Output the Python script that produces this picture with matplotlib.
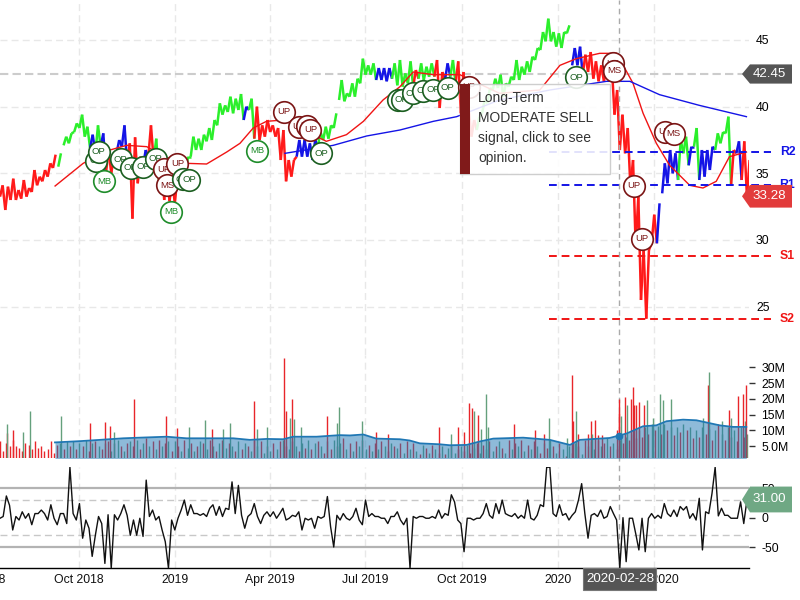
import pandas as pd
import matplotlib
matplotlib.use("Agg")
import matplotlib.pyplot as plt
import matplotlib.dates as mdates
from matplotlib.patches import Polygon, Rectangle
from matplotlib.transforms import blended_transform_factory

plt.rcParams['font.family'] = ['Liberation Sans', 'DejaVu Sans']

# bars of the price panel, one every 5.05 calendar days from start_date
start_date = pd.Timestamp("2018-07-18")
bar_step = 5.05
vol_step = 3.03

price_hi = [34.1, 34, 34.6, 33.75, 34.5, 33.9, 35.25, 34.75, 35.25, 35.75, 36.4, 36.5, 37.75, 38, 38.75, 39.4,
            38.5, 37.9, 38.6, 38, 36.75, 36.25, 37.5, 38.6, 37.25, 37.7, 36.25, 36.75, 38.6, 37.6, 35.75, 35.5,
            34.5, 34.75, 35, 36.25, 37.75, 37.6, 37.9, 38.4, 39, 40.25, 40.1, 40.75, 40.6, 40.95, 40, 40.6,
            40, 38.6, 39, 38.6, 38.4, 38.25, 36, 36, 37.5, 37.5, 37.25, 37.5, 38.1, 38.5, 38.6, 39.5,
            42, 41, 41.75, 42.1, 43.6, 43.1, 43.25, 42.9, 42.9, 42.9, 43.25, 43.5, 42.5, 43.4, 42.75, 43.25,
            43, 43.25, 43.5, 42.6, 43.25, 43.5, 43.4, 42.6, 39.75, 39, 39.25, 40.5, 41.4, 42.1, 42.4, 41.75,
            42.25, 43.5, 43, 43.4, 43.75, 44.4, 45.6, 46.6, 45.6, 45.5, 45.6, 46.1, 44.4, 44.5, 43.9, 44.1,
            43.4, 43.1, 42.9, 43, 41.25, 39.4, 38.4, 36, 33.25, 29.25, 29.25, 31.9, 32.75, 35.75, 36.75, 36.5,
            37.5, 37.75, 37, 38.4, 36.75, 36.75, 37, 38, 38.1, 39.25, 36.75, 37.4, 37.4, 36]
price_lo = [33.25, 32.25, 33, 33, 33.1, 33.25, 33.6, 34.1, 34.4, 34.75, 35.4, 35.5, 37.1, 37.25, 38.1, 38.4,
            37.75, 36.9, 36.5, 37, 35, 35, 36.5, 37, 35.75, 31.6, 34.25, 35.5, 36.25, 36, 34.5, 33,
            32.9, 32.75, 33.75, 35, 36.25, 36.75, 36.75, 37.4, 37.5, 38.6, 39.4, 39.6, 39.5, 39.75, 39, 39.75,
            37.6, 37.5, 37.75, 38.1, 37.75, 36, 34.4, 34.75, 36.25, 36.25, 36.25, 36, 37, 37.5, 37.6, 38.4,
            40.5, 40.4, 40.75, 40.75, 41.75, 42.4, 42.4, 42, 42, 41.9, 42.1, 41.6, 41.5, 41.75, 41.5, 42.1,
            42, 42.25, 42.25, 39.9, 42, 42.25, 41.75, 39.5, 38, 37.75, 38.25, 39.5, 40.25, 41.25, 41.4, 40.75,
            41.5, 42, 42, 42.4, 42.6, 43.5, 44.25, 44.9, 44.9, 44.5, 44.4, 45.5, 43.1, 43.1, 42.4, 42.6,
            42.1, 41.9, 41.9, 41.9, 39.4, 36.75, 36.5, 34, 29.5, 25.5, 24.1, 29.75, 29.75, 33.5, 34.25, 35,
            34.5, 36.5, 35.6, 37, 34.5, 34.75, 35.25, 36.75, 37.25, 38, 34.1, 36.5, 34.5, 33.25]
price_trend = ("rrrrrrrrrrrggggggbgbrrbbrrrbrgrrrrrggggggggggg"[:46] + "bg" + "rrrrrrrr" + "bbbb"
               + "ggggggggggg" + "bbb" + "gggg" + "r" + "ggg" + "rr" + "b" + "g" + "rrrr"
               + "g" * 18 + "bb" + "r" * 14 + "bbbb" + "gg" + "b" + "g" + "bbb" + "ggg" + "r" + "b" + "rr")
price_gaps = [10, 11, 63, 107, 124]

sma_x = [10.4, 15.7, 20.75, 23.9, 27.7, 31.4, 35.2, 39, 42.8, 45.3, 47.8, 50.3, 53.5, 56.6, 61.6, 65.4, 68.6,
         72.3, 75.5, 78, 81.8, 86.8, 94.3, 101.9, 105.7, 108.8, 113.2, 116.4, 119.5, 121.4, 123.9, 126.4,
         130.2, 132.7, 135.2, 137.7, 140.9]
sma_y = [34.05, 35.75, 36.75, 37.1, 37, 36.2, 35.75, 35.7, 36.6, 37.25, 38.4, 38.9, 39, 38.4, 37.4, 37.9, 38.9,
         40.5, 41.5, 42.6, 42.4, 42.4, 41, 41.25, 43.1, 43.6, 44, 44, 41.75, 39.5, 37.25, 35.6,
         34.1, 33.9, 34.4, 36.25, 36.6]
long_ma_x = [53.8, 62.9, 69.2, 75.5, 81.8, 86.2, 94.3, 103.8, 114.5, 118.9, 124.5, 132, 140.9]
long_ma_y = [36.5, 37.1, 37.8, 38.25, 38.9, 39.25, 40.5, 41.25, 41.9, 41.9, 40.9, 40.1, 39.25]

levels = {"R2": 36.6, "R1": 34.1, "S1": 28.8, "S2": 24.1}
last_close = 33.28
ref_price = 42.45
osc_last = 31.0

signal_names = ["OP", "OP", "MB", "OP", "OP", "OP", "OP", "UP", "UP", "MS", "OP", "OP", "MB", "MB", "UP", "UP",
                "UP", "UP", "OP", "OP", "OP", "OP", "OP", "OP", "OP", "UP", "OP", "UP", "MS", "UP", "UP", "UP", "MS"]
signal_x = [18.2, 18.6, 19.6, 22.8, 24.7, 27, 29.4, 31, 33.5, 31.6, 34.5, 35.7, 32.3, 48.5, 53.6, 56.4,
            57.9, 58.6, 60.6, 75.2, 75.8, 77.9, 79.9, 81.8, 84.5, 88.5, 108.8, 115.7, 115.9, 119.7, 121.2, 125.5, 127.2]
signal_y = [35.95, 36.6, 34.4, 36.05, 35.4, 35.5, 36.1, 35.3, 35.7, 34.1, 34.55, 34.5, 32.1, 36.7, 39.6, 38.5,
            38.55, 38.25, 36.5, 40.5, 40.5, 41, 41.2, 41.25, 41.4, 41.5, 42.2, 43.25, 42.7, 34.05, 30.1, 38.1, 37.95]

# daily volume in millions, one bar every 3.03 days, with the spikes listed apart
vol_base = [6.5, 3.5, 6, 5, 7, 5, 4.5, 3.5, 6, 5.5, 4, 6.5, 4.5, 5, 3.5, 4, 6.5, 3, 5.5, 6, 4, 6.5, 5, 6.5, 4,
            6, 5, 7, 3.5, 6, 6.5, 5, 4, 6, 6.5, 3.5, 6, 7, 5, 3.5, 6, 6.5, 5, 7, 4, 6, 7.5, 5, 6.5, 4,
            7, 5, 6, 6.5, 3.5, 6.5, 5, 3.5, 7, 4.5, 6, 3.5, 5, 6.5, 6, 4, 7, 5, 3.5, 6, 7, 4.5, 6, 5, 3.5,
            6.5, 4, 6, 5, 3.5, 7, 5, 6.5, 3, 5, 3.5, 6, 4, 6.5, 7, 5, 4, 6.5, 5, 3.5, 6, 4.5, 7, 4, 6,
            6.5, 5, 3, 6.5, 4, 7, 5, 6, 7.5, 4, 6, 3.5, 6.5, 5, 7, 4, 5.5, 3.5, 6, 4, 6.5, 5, 3.5, 6, 5,
            4.5, 6, 3, 6.5, 4, 6, 3.5, 2.5, 5.5, 4.5, 3, 5.5, 4, 3, 5, 2.5, 4.5, 5.5, 3, 4, 5, 3.5, 5.5, 3,
            4.5, 6, 3, 5.5, 4, 6.5, 3.5, 5, 6.5, 4.5, 3, 7, 4, 6, 5, 7, 3.5, 5.5, 4, 6.5, 5, 3, 6, 4.5, 7,
            5, 3, 6, 4, 2, 5, 3, 6, 5, 2.5, 7, 5, 6.5, 4, 7, 5, 6, 7.5, 5, 6, 4, 7, 6, 8, 7, 9, 7.5, 10, 8,
            11, 9, 12, 10, 11.5, 9, 12, 10, 11, 8.5, 11, 9.5, 12, 10, 11, 7.5, 10, 8, 11, 9, 10.5, 7, 10, 12,
            9, 7, 11, 8, 10, 6.5, 11, 8, 9, 10.5]
spike_x = [2.1, 2.3, 4, 7.3, 9.4, 19.3, 28.3, 33.1, 34.6, 35.8, 42.2, 52.2, 55.8, 59.5, 64.6, 66.7, 70.2, 72.5,
           80, 80.7, 84.1, 89.4, 90, 91.3, 91.9, 92.6, 94.8, 102.9, 106.1, 106.7, 114, 118.4, 122.1,
           138, 142, 144, 146, 147.6, 148.6, 149, 150.4, 151.2, 152.8, 153.5, 161.8, 168.3, 171, 172.8, 178.4,
           180, 180.3, 181.1, 181.9, 185, 185.8, 186.4, 187.2, 188.2, 189.5, 194, 194.7, 194.9, 195.5, 196.7,
           197.4, 198.4, 199.2, 199.5, 200.2, 200.9, 202.6, 203.6, 205.5, 207.6, 208.6, 211, 221.2, 222.8,
           223.1, 227, 229.4, 229.9, 232.2, 233.8, 234.3, 234.8]
spike_v = [9.1, 11.9, 10, 9.6, 16, 14.5, 12.2, 12.7, 11.3, 9.4, 19.8, 14.5, 10.7, 11, 13.3, 10.5, 10.3, 12.5,
           19.3, 10.5, 11, 32.8, 16, 14, 19.8, 13.5, 11, 14.5, 12.5, 17.3, 13, 9.4, 9,
           11, 9, 11, 9.5, 18.6, 17, 16, 15, 10.5, 21.4, 11, 12, 10, 9, 14, 7.5,
           27.5, 13, 16, 9, 9, 13, 9, 13.3, 8.5, 8.5, 10, 15.4, 20, 14.5, 20.5,
           18, 20, 23.6, 18, 18, 19, 18, 19.6, 14, 21.4, 19.5, 20, 14, 24.4,
           28.4, 13, 16.4, 14, 21, 21.4, 13, 24.5]
spike_col = "rgrgg" "grrrg" "rrrgg" "rgg" "rgg" "rrgrg" "g" "rgg" "grr" "rggrrrrrrrrrg" "ggg" "grrg"[:0] + ""

vol_ma_x = [17.3, 25.2, 31.4, 38.8, 44, 52.4, 58.7, 73.4, 78.6, 83.9, 89.1, 92.2, 99.6, 106.9, 110.1, 114.3, 118.4, 125.8,
            128.9, 132.1, 138.4, 141.5, 146.8, 151, 155.2, 164.6, 173, 179.3, 182.4, 191.8, 197.1, 202.3, 206.5,
            209.7, 214.9, 219.1, 226.4, 230.6, 234.8]
vol_ma_y = [6.2, 6.6, 7, 7.5, 7.7, 8, 7.5, 7.5, 7, 7.3, 7.2, 8, 8, 8.5, 8.4, 8.7, 7.4, 7.2,
            6.8, 5.9, 5.6, 5.3, 5.4, 6.5, 7.4, 7.7, 7, 5.4, 7, 7.6, 9, 11.3, 11.6,
            12.9, 13.4, 13.2, 11.6, 11.1, 11.1]

# oscillator, one point every 3.03 days
osc = [-1, 2, 37, 21, -21, 2, -4, 10, -1, 7, -12, 7, 7, 13, 7, -4, 22, -1, -12, 7, 7, -10, 86, 7, -4, 24, -35, -4, -18, -66,
       -30, 2, -10, -78, 5, -86, 5, -4, 7, 22, 4, -30, -4, -30, -1, -32, 64, 2, 13, -4, 2, -21, -41, -86, -4, -21, -1, 13, 30, 4,
       22, 7, 7, 4, 7, 2, 16, 22, 4, 19, 2, 16, 14, 61, 7, 55, 4, -18, 2, 7, 24, 2, -10, 4, 10, 2, 10, -1, 7, 16,
       -4, -1, 4, 2, 10, -21, -1, -4, -1, -18, 2, -1, 2, 36, -15, -50, 4, -4, 7, -1, -4, 2, 16, -4, -12, 30, 2, 7, 2, 2,
       -1, -1, -10, 2, 2, 10, -4, -12, -1, -86, 2, -1, 2, 2, -1, -1, 2, -1, 13, -1, 7, 4, 39, 27, -4, -10, -58, -1, -1, -4,
       -1, -1, 7, 24, 4, -1, 24, 7, 30, 7, 4, 2, 7, -1, 4, -1, 30, -1, -4, 4, 22, 19, 86, 86, 7, 2, 22, 4, 7, -4,
       4, 10, 30, 58, 7, -35, 4, 7, 2, 13, -1, 2, 19, 7, -4, -86, 0, -75, -1, -1, -27, -55, -1, -58, -1, 7, -1, 4, -1, 24,
       7, 2, 13, 2, 19, 13, 19, -1, 7, -4, 33, -55, 10, 7, 41, 86, 3, 16, 4, 4, -1, -1, -1, 27, -10, 30]

tick_dates = ["2018-10-01", "2019-01-01", "2019-04-01", "2019-07-01", "2019-10-01", "2020-01-01", "2020-04-01"]
tick_text = ["Oct 2018", "2019", "Apr 2019", "Jul 2019", "Oct 2019", "2020", "Apr 2020"]
cross_date = "2020-02-28"

colors = {"r": "#ff1a1a", "g": "#2bef2b", "b": "#1414e6"}
signal_edge = {"OP": "#1b5e20", "MB": "#1e8c2a", "UP": "#7b1515", "MS": "#7b1515"}
vol_colors = {"r": "#e8262a", "g": "#64a07c"}


def to_num(idx, step):
    return mdates.date2num(start_date) + pd.Series(idx, dtype=float).to_numpy() * step


W, H = 800, 600
fig = plt.figure(figsize=(8, 6), dpi=100)


def panel(top, bottom):
    return fig.add_axes([0, 1 - bottom / H, 749 / W, (bottom - top) / H])


ax = panel(0, 355)
ax_vol = panel(355, 458)
ax_osc = panel(467, 568)
x0 = mdates.date2num(start_date)
for a in (ax, ax_vol, ax_osc):
    a.set_xlim(x0, x0 + 749 / 1.049)
    a.patch.set_alpha(0)
    for s in a.spines.values():
        s.set_visible(False)
    a.yaxis.tick_right()
    a.set_xticks(mdates.date2num(pd.to_datetime(tick_dates)))
    a.set_xticklabels([])
    a.tick_params(axis="x", length=0)
    a.grid(axis="x", color="#e8e8e8", lw=1, ls=(0, (5, 3)))
    a.set_axisbelow(True)

# price panel
ax.set_ylim(48 - 355 * 3 / 40, 48)
ax.set_yticks([25, 30, 35, 40, 45])
ax.tick_params(axis="y", length=0, pad=5, labelsize=8.8)
ax.grid(axis="y", color="#e8e8e8", lw=1, ls=(0, (5, 3)))

bx = to_num(range(len(price_hi)), bar_step)
for i in range(len(price_hi)):
    c = colors[price_trend[i]]
    ax.plot([bx[i], bx[i] + bar_step * 0.5], [price_lo[i], price_hi[i]], color=c, lw=1.8, zorder=3,
            solid_capstyle="butt")
    if i + 1 < len(price_hi) and i not in price_gaps:
        ax.plot([bx[i] + bar_step * 0.5, bx[i + 1]], [price_hi[i], price_lo[i + 1]], color=c, lw=1.8, zorder=3,
                solid_capstyle="butt")

ax.plot(to_num(sma_x, bar_step), sma_y, color="#f01414", lw=1, zorder=4)
ax.plot(to_num(long_ma_x, bar_step), long_ma_y, color="#1414e6", lw=1, zorder=4)
ax.axhline(ref_price, color="#cccccc", lw=1.5, ls=(0, (4, 2)), zorder=2)

for name, val in levels.items():
    col = "#1414e6" if name[0] == "R" else "#f01414"
    ax.plot(to_num([103.6, 145.6], bar_step), [val, val], color=col, lw=1.4, ls=(0, (4, 2.5)), zorder=5,
            clip_on=False)
    ax.text(787.5 / 749, val, name, transform=ax.get_yaxis_transform(), color=col, fontsize=8.8,
            fontweight="bold", ha="center", va="center", zorder=6)

sx = to_num(signal_x, bar_step)
for i, name in enumerate(signal_names):
    ec = signal_edge[name]
    ax.plot(sx[i], signal_y[i], "o", ms=15.5, mfc="white", mec=ec, mew=1.2, zorder=7 + i * 0.01)
    ax.text(sx[i], signal_y[i], name, color=ec, fontsize=6.8, ha="center", va="center", zorder=7 + i * 0.01)

# volume panel
ax_vol.set_ylim((462 - 458) / 3.16, (462 - 355) / 3.16)
ax_vol.set_yticks([5, 10, 15, 20, 25, 30])
ax_vol.set_yticklabels(["5.0M", "10M", "15M", "20M", "25M", "30M"])
ax_vol.tick_params(axis="y", length=4, width=1, pad=5, labelsize=8.8, color="#333333")
vx = to_num(range(len(vol_base)), vol_step)
spike_colors = ["r", "g", "r", "g", "g", "g", "r", "r", "r", "g", "r", "r", "r", "g", "g", "r", "g", "g",
                "r", "g", "g", "r", "r", "g", "r", "g", "g", "r", "g", "g", "g", "r", "r",
                "r", "g", "r", "r", "r", "r", "g", "r", "g", "g", "g", "r", "r", "r", "g", "g",
                "r", "r", "g", "r", "r", "r", "g", "r", "r", "r", "r", "r", "r", "g", "r",
                "g", "r", "r", "r", "r", "r", "r", "g", "g", "g", "g", "g", "g", "r",
                "g", "g", "r", "g", "r", "r", "g", "r"]
ax_vol.vlines(vx, 0, vol_base, colors=[vol_colors["rg"[i % 2]] if i > 17 else vol_colors["r"]
                                       for i in range(len(vol_base))], lw=1, zorder=2)
ax_vol.vlines(to_num(spike_x, vol_step), 0, spike_v, colors=[vol_colors[c] for c in spike_colors], lw=1, zorder=2)
mx = to_num(vol_ma_x, vol_step)
ax_vol.fill_between(mx, 0, vol_ma_y, color="#1f77b4", alpha=0.5, lw=0, zorder=3)
ax_vol.plot(mx, vol_ma_y, color="#1f77b4", lw=1.3, zorder=4)
cross = mdates.date2num(pd.Timestamp(cross_date))
ax_vol.plot(cross, 8.1, "o", ms=4.5, color="#1f77b4", zorder=5)

# oscillator panel
ax_osc.set_ylim((517.67 - 568) / 0.5867, (517.67 - 467) / 0.5867)
ax_osc.set_yticks([-50, 0, 50])
ax_osc.set_yticklabels(["-50", "0", "50"])
ax_osc.tick_params(axis="y", length=4, width=1, pad=5, labelsize=8.8, color="#333333")
ax_osc.plot(to_num(range(len(osc)), vol_step), osc, color="#111111", lw=1, zorder=4)
for v in (-50, 50):
    ax_osc.axhline(v, color="#b3b3b3", lw=1.6, zorder=2)
for v in (-30, 30):
    ax_osc.axhline(v, color="#c8c8c8", lw=1, ls=(0, (5, 3)), zorder=2)
ax_osc.spines["bottom"].set_visible(True)
ax_osc.spines["bottom"].set_color("black")
ax_osc.spines["bottom"].set_linewidth(1)

for d, t in zip(tick_dates + ["2018-07-01"], tick_text + ["Jul 2018"]):
    ax_osc.text(mdates.date2num(pd.Timestamp(d)), -6 / 101, t, transform=ax_osc.get_xaxis_transform(), ha="center",
                va="top", fontsize=8.8, color="#111111", clip_on=False, zorder=6)

# crosshair through all panels
ax.axvline(cross, ymin=-(568 - 355) / 355, ymax=1, color="#aaaaaa", lw=1, ls=(0, (4, 3)), clip_on=False, zorder=6)


def tag(a, val, half, col, text):
    tr = blended_transform_factory(a.transAxes, a.transData)
    xl, xr, xn = 742 / 749, 792 / 749, 750 / 749
    a.add_patch(Polygon([(xl, val), (xn, val + half), (xr, val + half), (xr, val - half), (xn, val - half)],
                        closed=True, transform=tr, fc=col, ec="none", clip_on=False, zorder=20))
    a.text(769 / 749, val, text, transform=tr, color="white", fontsize=9.6, ha="center", va="center", zorder=21)


tag(ax, ref_price, 0.72, "#555555", "42.45")
tag(ax, last_close, 0.85, "#e23b3b", "33.28")
tag(ax_osc, osc_last, 22, "#6fa884", "31.00")

# date tag under the crosshair
fig.add_artist(Rectangle((583 / W, 1 - 590 / H), 73 / W, 22 / H, transform=fig.transFigure, fc="#555555", ec="#777777",
                         lw=0.8, zorder=30))
fig.text(620 / W, 1 - 579 / H, cross_date, color="white", fontsize=9.6, ha="center", va="center", zorder=31)

# tooltip
fig.add_artist(Rectangle((460 / W, 1 - 174.5 / H), 150 / W, 90 / H, transform=fig.transFigure, fc="white", ec="#c8c8c8",
                         alpha=0.88, lw=1, zorder=40))
fig.add_artist(Rectangle((460 / W, 1 - 174.5 / H), 10 / W, 90 / H, transform=fig.transFigure, fc="#801a1a", ec="none",
                         zorder=41))
for k, line in enumerate(["Long-Term", "MODERATE SELL", "signal, click to see", "opinion."]):
    fig.text(478 / W, 1 - (98 + 20 * k) / H, line, color="#333333", fontsize=10, ha="left", va="center", zorder=42)

fig.savefig("out.png", dpi=100)
